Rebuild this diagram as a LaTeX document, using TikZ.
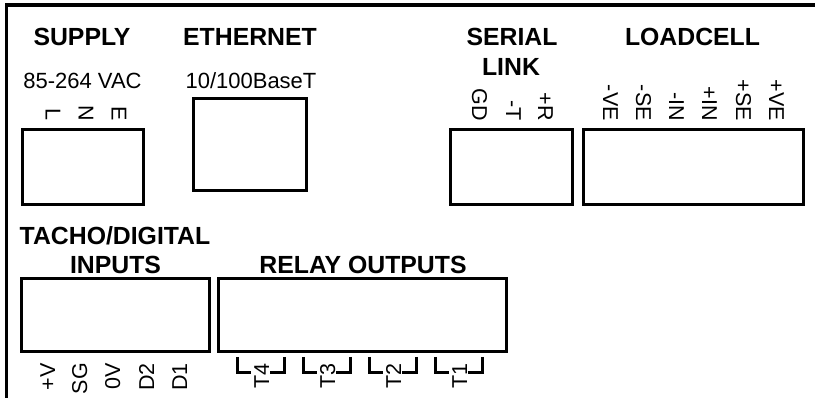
\documentclass[tikz,border=0pt]{standalone}
\usepackage{fontspec}
\setmainfont{Liberation Sans}
\begin{document}
\begin{tikzpicture}[x=1pt, y=-1pt,
    panel/.style={line width=3.2pt},
    termbox/.style={draw, line width=3pt, anchor=north west, inner sep=0pt, outer sep=0pt},
    heading/.style={anchor=base, inner sep=0pt, font=\fontsize{24.8}{25}\selectfont\bfseries},
    rating/.style={anchor=base, inner sep=0pt, font=\fontsize{22}{22}\selectfont},
    pinin/.style={rotate=-90, anchor=base east, inner sep=0pt, font=\fontsize{21.5}{22}\selectfont},
    pinout/.style={rotate=90, anchor=base east, inner sep=0pt, font=\fontsize{21.5}{22}\selectfont},
    bracket/.style={line width=3pt}]
    \useasboundingbox (0,0) rectangle (815,398);

    % outer panel edge
    \coordinate (paneltop) at (815,5);
    \coordinate (panelcorner) at (6.5,5);
    \coordinate (panelbot) at (6.5,398);
    \draw[panel] (paneltop) -- (panelcorner) -- (panelbot);

    % top row
    \node[heading] (supplyhead) at (82,46) {SUPPLY};
    \node[heading] (etherhead) at (250,46) {ETHERNET};
    \node[heading] (serialhead) at (512,46) {SERIAL};
    \node[heading] (linkhead) at (511,76) {LINK};
    \node[heading] (loadhead) at (692.5,46) {LOADCELL};
    \node[rating] (supplyvolts) at (82.5,89) {85-264 VAC};
    \node[rating] (etherspeed) at (251,89) {10/100BaseT};

    \node[termbox, minimum width=121pt, minimum height=75pt] (supply) at (22,130) {};
    \node[termbox, minimum width=113pt, minimum height=92pt] (ether) at (193,99) {};
    \node[termbox, minimum width=122pt, minimum height=75pt] (serial) at (450,130) {};
    \node[termbox, minimum width=220pt, minimum height=75pt] (load) at (583,130) {};

    \foreach \x/\t/\n in {45.5/L/supl, 78.5/N/supn, 111.5/E/supe, 472/GD/sergd, 506/-T/sert, 538/+R/serr,
        603/-VE/lcva, 636/-SE/lcsa, 669/-IN/lcia, 702/+IN/lcib, 736/+SE/lcsb, 769/+VE/lcvb}
        \node[pinin] (\n) at (\x,121) {\t};

    % bottom row
    \node[heading] (tachohead) at (115,245) {TACHO/DIGITAL};
    \node[heading] (inputhead) at (115.5,274) {INPUTS};
    \node[heading] (relayhead) at (363,274) {RELAY OUTPUTS};

    \node[termbox, minimum width=188pt, minimum height=73pt] (tacho) at (21,279) {};
    \node[termbox, minimum width=288pt, minimum height=73pt] (relay) at (218,279) {};

    \foreach \x/\t/\n in {55/+V/inv, 87/SG/insg, 120/0V/inzero, 154/D2/indb, 187/D1/inda}
        \node[pinout] (\n) at (\x,363) {\t};

    \foreach \x/\i in {0/4, 66/3, 132/2, 198/1} {
        \node[pinout] (relay\i) at (269+\x,363) {T\i};
        \draw[bracket] (237+\x,357) -- (237+\x,373) -- (251+\x,373);
        \draw[bracket] (284+\x,357) -- (284+\x,373) -- (270+\x,373);
    }
\end{tikzpicture}
\end{document}
